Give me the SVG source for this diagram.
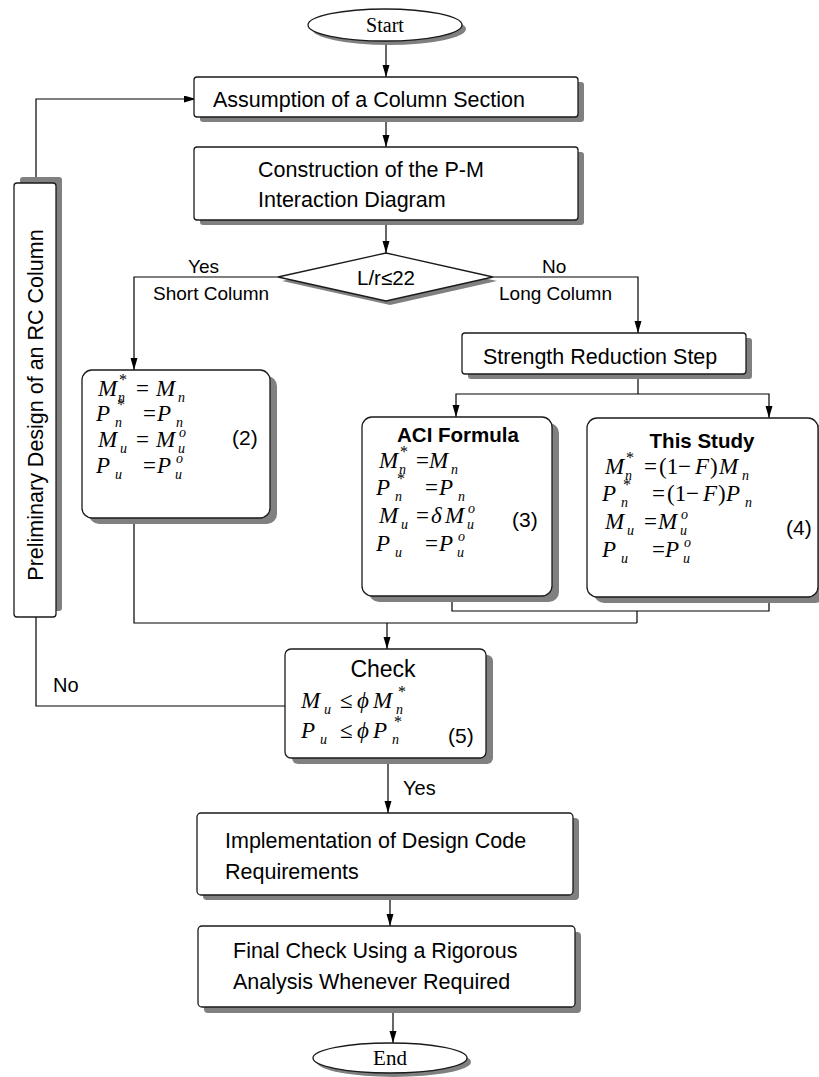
<svg xmlns="http://www.w3.org/2000/svg" width="819" height="1077" viewBox="0 0 819 1077">
<defs>
<style>
.box{fill:#fff;stroke:#1a1a1a;stroke-width:1.3}
.sh{fill:#808080}
.t{font-family:"Liberation Sans",Arial,sans-serif;font-size:21.5px;fill:#000}
.lbl{font-family:"Liberation Sans",Arial,sans-serif;font-size:19px;fill:#000}
.b{font-family:"Liberation Sans",Arial,sans-serif;font-size:20.5px;font-weight:bold;fill:#000}
.se{font-family:"Liberation Serif","Times New Roman",serif;font-size:21px;fill:#000}
.f{font-family:"Liberation Serif","Times New Roman",serif;font-size:23px;fill:#000}
.i{font-style:italic}
.s{font-style:italic;font-size:14px}
.a{font-size:16px;font-style:normal}
.conn{fill:none;stroke:#000;stroke-width:1.2}
</style>
<marker id="arr" markerUnits="userSpaceOnUse" markerWidth="12" markerHeight="8" refX="12" refY="3.5" orient="auto">
<path d="M0,0 L12,3.5 L0,7 z" fill="#000"/>
</marker>
</defs>
<rect width="819" height="1077" fill="#fff"/>

<g id="connectors">
<path class="conn" d="M386,41 L386,77" marker-end="url(#arr)"/>
<path class="conn" d="M386,117 L386,147" marker-end="url(#arr)"/>
<path class="conn" d="M386,220 L386,253" marker-end="url(#arr)"/>
<path class="conn" d="M278,277 L134,277 L134,370" marker-end="url(#arr)"/>
<path class="conn" d="M493,277 L638,277 L638,333" marker-end="url(#arr)"/>
<path class="conn" d="M638,374 L638,394"/>
<path class="conn" d="M638,394 L456,394 L456,417" marker-end="url(#arr)"/>
<path class="conn" d="M638,394 L769,394 L769,418" marker-end="url(#arr)"/>
<path class="conn" d="M452,596 L452,611 L769,611 L769,597"/>
<path class="conn" d="M637,611 L637,623"/>
<path class="conn" d="M134,518 L134,623 L637,623"/>
<path class="conn" d="M387,623 L387,649" marker-end="url(#arr)"/>
<path class="conn" d="M286,706 L36,706 L36,617"/>
<path class="conn" d="M36,183 L36,99 L196,99" marker-end="url(#arr)"/>
<path class="conn" d="M388,758 L388,813" marker-end="url(#arr)"/>
<path class="conn" d="M390,895 L390,926" marker-end="url(#arr)"/>
<path class="conn" d="M393,1008 L393,1043" marker-end="url(#arr)"/>
<text class="lbl" x="188" y="273">Yes</text>
<text class="lbl" x="153" y="300">Short Column</text>
<text class="lbl" x="542" y="273">No</text>
<text class="lbl" x="499" y="300">Long Column</text>
<text class="lbl" x="53" y="692" style="font-size:20px">No</text>
<text class="lbl" x="403" y="795" style="font-size:20px">Yes</text>
</g>

<g id="start">
<ellipse class="sh" cx="389" cy="29" rx="77" ry="16"/>
<ellipse class="box" cx="385" cy="25" rx="77" ry="16"/>
<text class="se" x="385" y="32" text-anchor="middle" style="font-size:20px">Start</text>
</g>

<g id="assumption">
<rect class="sh" x="200" y="82" width="384" height="40" rx="3"/>
<rect class="box" x="194" y="77" width="384" height="40" rx="3"/>
<text class="t" x="213" y="107">Assumption of a Column Section</text>
</g>

<g id="construction">
<rect class="sh" x="200" y="152" width="384" height="73" rx="3"/>
<rect class="box" x="194" y="147" width="384" height="73" rx="3"/>
<text class="t" x="258" y="177">Construction of the P-M</text>
<text class="t" x="258" y="207">Interaction Diagram</text>
</g>

<g id="decision">
<polygon class="sh" points="282,281 390,257 497,281 390,305"/>
<polygon class="box" points="278,277 386,253 493,277 386,301"/>
<text class="t" x="386" y="285" text-anchor="middle" style="font-size:20.5px">L/r≤22</text>
</g>

<g id="preliminary">
<rect class="sh" x="20" y="177" width="42" height="434" rx="3"/>
<rect class="box" x="14" y="183" width="42" height="434" rx="3"/>
<text class="t" transform="translate(43,405) rotate(-90)" text-anchor="middle" style="font-size:21.5px">Preliminary Design of an RC Column</text>
</g>

<g id="short-column">
<rect class="sh" x="89" y="376" width="188" height="148" rx="10"/>
<rect class="box" x="82" y="370" width="188" height="148" rx="10"/>
<text class="f"><tspan class="i" x="98" y="396">M</tspan><tspan class="a" x="119" y="385">*</tspan><tspan class="s" x="118" y="402">n</tspan><tspan x="136" y="396">=</tspan><tspan class="i" x="156" y="396">M</tspan><tspan class="s" x="178" y="402">n</tspan></text>
<text class="f"><tspan class="i" x="96" y="421">P</tspan><tspan class="a" x="117" y="410">*</tspan><tspan class="s" x="115" y="427">n</tspan><tspan x="143" y="421">=</tspan><tspan class="i" x="157" y="421">P</tspan><tspan class="s" x="176" y="427">n</tspan></text>
<text class="f"><tspan class="i" x="98" y="447">M</tspan><tspan class="s" x="120" y="453">u</tspan><tspan x="136" y="447">=</tspan><tspan class="i" x="156" y="447">M</tspan><tspan class="s" x="179" y="437">o</tspan><tspan class="s" x="178" y="453">u</tspan></text>
<text class="f"><tspan class="i" x="96" y="473">P</tspan><tspan class="s" x="115" y="479">u</tspan><tspan x="143" y="473">=</tspan><tspan class="i" x="157" y="473">P</tspan><tspan class="s" x="176" y="463">o</tspan><tspan class="s" x="175" y="479">u</tspan></text>
<text class="t" x="232" y="445" style="font-size:21px">(2)</text>
</g>

<g id="strength-reduction">
<rect class="sh" x="468" y="338" width="284" height="41" rx="3"/>
<rect class="box" x="462" y="333" width="284" height="41" rx="3"/>
<text class="t" x="483" y="364">Strength Reduction Step</text>
</g>

<g id="aci-formula">
<rect class="sh" x="369" y="423" width="190" height="179" rx="10"/>
<rect class="box" x="362" y="417" width="190" height="179" rx="10"/>
<text class="b" x="458" y="442" text-anchor="middle">ACI Formula</text>
<text class="f"><tspan class="i" x="379" y="468">M</tspan><tspan class="a" x="400" y="457">*</tspan><tspan class="s" x="399" y="474">n</tspan><tspan x="416" y="468">=</tspan><tspan class="i" x="429" y="468">M</tspan><tspan class="s" x="451" y="474">n</tspan></text>
<text class="f"><tspan class="i" x="376" y="495">P</tspan><tspan class="a" x="397" y="484">*</tspan><tspan class="s" x="395" y="501">n</tspan><tspan x="425" y="495">=</tspan><tspan class="i" x="439" y="495">P</tspan><tspan class="s" x="458" y="501">n</tspan></text>
<text class="f"><tspan class="i" x="379" y="523">M</tspan><tspan class="s" x="401" y="529">u</tspan><tspan x="416" y="523">=</tspan><tspan class="i" x="431" y="523">δ</tspan><tspan class="i" x="445" y="523">M</tspan><tspan class="s" x="468" y="513">o</tspan><tspan class="s" x="467" y="529">u</tspan></text>
<text class="f"><tspan class="i" x="376" y="551">P</tspan><tspan class="s" x="395" y="557">u</tspan><tspan x="425" y="551">=</tspan><tspan class="i" x="439" y="551">P</tspan><tspan class="s" x="458" y="541">o</tspan><tspan class="s" x="457" y="557">u</tspan></text>
<text class="t" x="512" y="527" style="font-size:21px">(3)</text>
</g>

<g id="this-study">
<rect class="sh" x="594" y="424" width="231" height="179" rx="10"/>
<rect class="box" x="587" y="418" width="231" height="179" rx="10"/>
<text class="b" x="702" y="448" text-anchor="middle">This Study</text>
<text class="f"><tspan class="i" x="605" y="474">M</tspan><tspan class="a" x="626" y="463">*</tspan><tspan class="s" x="625" y="480">n</tspan><tspan x="644" y="474">=</tspan><tspan x="659" y="474">(1</tspan><tspan x="678" y="474">−</tspan><tspan class="i" x="695" y="474">F</tspan><tspan x="710" y="474">)</tspan><tspan class="i" x="719" y="474">M</tspan><tspan class="s" x="742" y="480">n</tspan></text>
<text class="f"><tspan class="i" x="602" y="501">P</tspan><tspan class="a" x="623" y="490">*</tspan><tspan class="s" x="621" y="507">n</tspan><tspan x="652" y="501">=</tspan><tspan x="667" y="501">(1</tspan><tspan x="686" y="501">−</tspan><tspan class="i" x="703" y="501">F</tspan><tspan x="718" y="501">)</tspan><tspan class="i" x="726" y="501">P</tspan><tspan class="s" x="745" y="507">n</tspan></text>
<text class="f"><tspan class="i" x="605" y="529">M</tspan><tspan class="s" x="627" y="535">u</tspan><tspan x="644" y="529">=</tspan><tspan class="i" x="658" y="529">M</tspan><tspan class="s" x="681" y="519">o</tspan><tspan class="s" x="680" y="535">u</tspan></text>
<text class="f"><tspan class="i" x="602" y="557">P</tspan><tspan class="s" x="621" y="563">u</tspan><tspan x="652" y="557">=</tspan><tspan class="i" x="665" y="557">P</tspan><tspan class="s" x="684" y="547">o</tspan><tspan class="s" x="683" y="563">u</tspan></text>
<text class="t" x="786" y="535" style="font-size:21px">(4)</text>
</g>

<g id="check">
<rect class="sh" x="292" y="655" width="201" height="109" rx="6"/>
<rect class="box" x="285" y="649" width="201" height="109" rx="6"/>
<text class="t" x="383" y="677" text-anchor="middle" style="font-size:23px">Check</text>
<text class="f"><tspan class="i" x="301" y="708">M</tspan><tspan class="s" x="324" y="714">u</tspan><tspan x="340" y="708">≤</tspan><tspan class="i" x="357" y="708">ϕ</tspan><tspan class="i" x="373" y="708">M</tspan><tspan class="a" x="398" y="697">*</tspan><tspan class="s" x="396" y="714">n</tspan></text>
<text class="f"><tspan class="i" x="301" y="738">P</tspan><tspan class="s" x="320" y="744">u</tspan><tspan x="340" y="738">≤</tspan><tspan class="i" x="357" y="738">ϕ</tspan><tspan class="i" x="373" y="738">P</tspan><tspan class="a" x="394" y="727">*</tspan><tspan class="s" x="392" y="744">n</tspan></text>
<text class="t" x="448" y="743" style="font-size:21px">(5)</text>
</g>

<g id="implementation">
<rect class="sh" x="203" y="818" width="376" height="82" rx="4"/>
<rect class="box" x="197" y="813" width="376" height="82" rx="4"/>
<text class="t" x="225" y="848">Implementation of Design Code</text>
<text class="t" x="225" y="879">Requirements</text>
</g>

<g id="final-check">
<rect class="sh" x="204" y="932" width="377" height="81" rx="4"/>
<rect class="box" x="198" y="926" width="377" height="81" rx="4"/>
<text class="t" x="233" y="958">Final Check Using a Rigorous</text>
<text class="t" x="233" y="989">Analysis Whenever Required</text>
</g>

<g id="end">
<ellipse class="sh" cx="394" cy="1062" rx="77" ry="15"/>
<ellipse class="box" cx="390" cy="1058" rx="77" ry="15"/>
<text class="se" x="390" y="1065" text-anchor="middle">End</text>
</g>
</svg>
